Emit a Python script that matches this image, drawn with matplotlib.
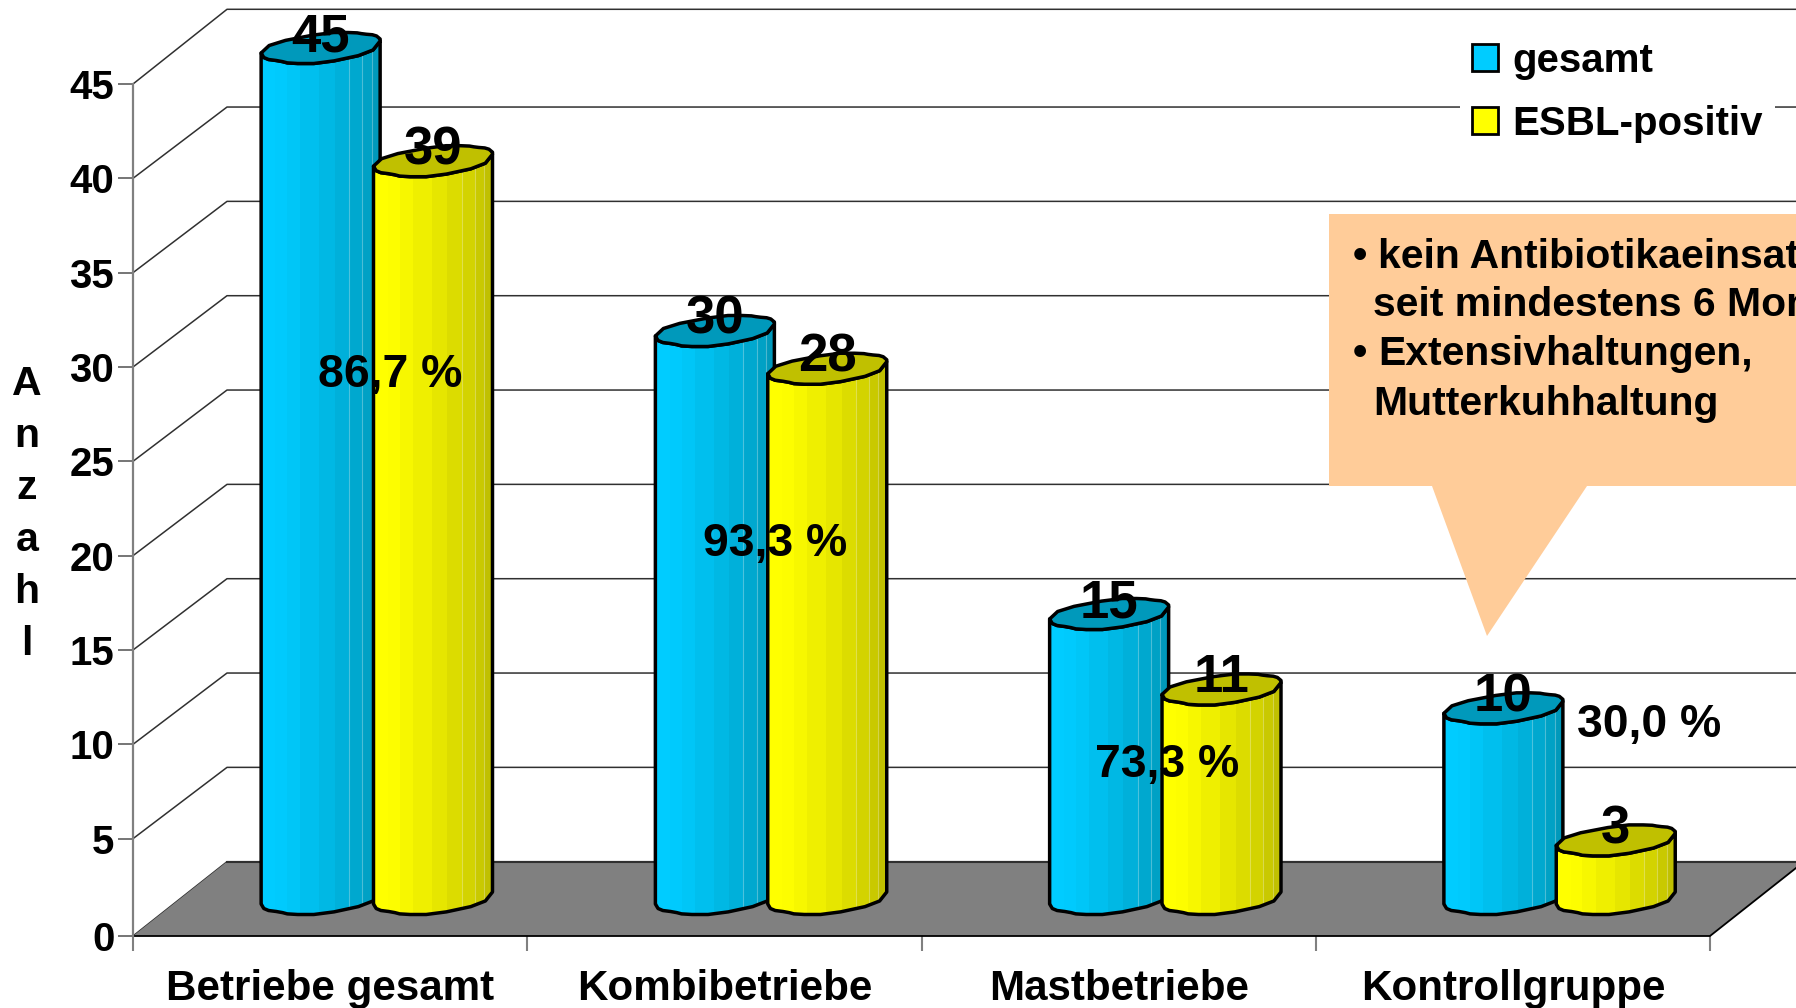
import matplotlib
matplotlib.use('Agg')
import matplotlib.pyplot as plt
from matplotlib.patches import Polygon, Patch
from matplotlib.colors import to_rgb
import numpy as np

plt.rcParams['font.family'] = ['Liberation Sans', 'DejaVu Sans']
plt.rcParams['font.weight'] = 'bold'

categories = ['Betriebe gesamt', 'Kombibetriebe', 'Mastbetriebe', 'Kontrollgruppe']
gesamt = [45, 30, 15, 10]
esbl = [39, 28, 11, 3]
y_ticks = [0, 5, 10, 15, 20, 25, 30, 35, 40, 45]
pct_labels = ['86,7 %', '93,3 %', '73,3 %', '30,0 %']
pct_x = [0.652, 1.628, 2.623, 3.845]
pct_y = [29.6, 20.6, 8.9, 11.0]
callout_lines = ['kein Antibiotikaeinsatz', 'seit mindestens 6 Monaten',
                 'Extensivhaltungen,', 'Mutterkuhhaltung']

W, H = 1796, 1008
X0, X1, Y0, Y45 = 133, 1710, 933, 84
sx = (X1 - X0) / 4.0      # pixels per category
sy = (Y0 - Y45) / 45.0    # pixels per count
drop = 3 / sy             # floor front sits a little under the zero tick

fig = plt.figure(figsize=(W / 100, H / 100), dpi=100, facecolor='white')
ax = fig.add_axes([X0 / W, 1 - (Y0 + 3) / H, (X1 - X0) / W, (Y0 + 3 - Y45) / H], facecolor='none')
ax.set_xlim(0, 4)
ax.set_ylim(-drop, 45)

# depth of the fake 3d box
dx = 94 / sx
dy = 71.3 / sy

for v in y_ticks:
    low = -drop if v == 0 else v
    high = v + dy + (3.4 / sy if v == 45 else 0)
    ax.plot([0, dx, 4 + dx], [low, high, high], color='#303030', lw=1.1, zorder=1, clip_on=False)
ax.fill([0, 4, 4 + dx, dx], [-drop, -drop, dy, dy], facecolor='#808080', edgecolor='none',
        zorder=2, clip_on=False)
ax.plot([dx, 4 + dx], [dy, dy], color='#303030', lw=1.5, zorder=2, clip_on=False)
ax.plot([0, 4, 4 + dx], [-drop, -drop, dy], color='black', lw=1.3, zorder=2, clip_on=False)


def soften(u, v):
    # one round of corner cutting, keeps end points
    pts = np.column_stack([u, v])
    out = [pts[0]]
    for a, b in zip(pts[:-1], pts[1:]):
        out.append(a * 0.75 + b * 0.25)
        out.append(a * 0.25 + b * 0.75)
    out.append(pts[-1])
    out = np.array(out)
    return out[:, 0], out[:, 1]


# lumpy cylinder outline, pixels from the centre line
low_u, low_v = soften(np.array([0, 0.03, 0.16, 0.24, 0.51, 0.92, 1.0]),
                      np.array([5, 11, 13, 15.5, 15.5, 5, -7]))
up_u, up_v = soften(np.array([1.0, 0.96, 0.86, 0.79, 0.55, 0.09, 0.0]),
                    np.array([-9, -13, -14, -15.5, -15.5, -5, 5]))
strip_u = [0, 0.12, 0.22, 0.33, 0.49, 0.62, 0.74, 0.85, 0.93, 1.0]
strip_t = [0, 0.03, 0.12, 0.25, 0.4, 0.55, 0.7, 0.85, 1.0]
seam_u = [0.74, 0.85, 0.93]
base_top = 36 / sy
base_bot = 34 / sy
bar_w = 119 / sx


def draw_bar(x, value, light, dark, z):
    c1 = np.array(to_rgb(light))
    c2 = np.array(to_rgb(dark))
    top = value + base_top
    xs = x + low_u * bar_w
    body = list(zip(xs, base_bot - low_v / sy)) + list(zip(xs[::-1], (top - low_v / sy)[::-1]))
    outline = Polygon(body, closed=True, facecolor='none', edgecolor='black', lw=2.5,
                      joinstyle='round', zorder=z + 0.2, clip_on=False)
    back = Polygon(body, closed=True, facecolor=light, edgecolor='none', zorder=z, clip_on=False)
    ax.add_patch(back)
    ax.add_patch(outline)
    for i, t in enumerate(strip_t):
        b = ax.bar(x + strip_u[i] * bar_w, value + 2 * 16 / sy + 2 * base_top,
                   width=(strip_u[i + 1] - strip_u[i]) * bar_w, bottom=-base_top, align='edge',
                   color=c1 + (c2 - c1) * t, zorder=z + 0.1)
        for r in b:
            r.set_clip_path(back)
            r.set_clip_box(None)
    for u in seam_u:
        ln = ax.plot([x + u * bar_w] * 2, [0, value + 2 * base_top], color='white', alpha=0.3,
                     lw=0.8, zorder=z + 0.15)[0]
        ln.set_clip_path(back)
        ln.set_clip_box(None)
    cap = list(zip(xs, top - low_v / sy)) + list(zip(x + up_u * bar_w, top - up_v / sy))
    ax.add_patch(Polygon(cap, closed=True, facecolor=dark, edgecolor='black', lw=2.5,
                         joinstyle='round', zorder=z + 0.3, clip_on=False))
    ax.text(x + bar_w / 2, value + base_top + 11 / sy, str(value), ha='center', va='center',
            fontsize=38, color='black', zorder=7, clip_on=False)


for i in range(len(categories)):
    draw_bar(i + 0.325, gesamt[i], '#00CCFF', '#0099BB', 3 + i)
    draw_bar(i + 0.61, esbl[i], '#FFFF00', '#C0C000', 3.5 + i)
    ax.text(pct_x[i], pct_y[i], pct_labels[i], ha='center', va='center', fontsize=33.4,
            color='black', zorder=8, clip_on=False)

# axes
for s in ['top', 'right', 'bottom']:
    ax.spines[s].set_visible(False)
ax.spines['left'].set_color('#808080')
ax.spines['left'].set_linewidth(1.6)
ax.set_yticks([-drop] + y_ticks[1:])
ax.set_yticklabels([str(v) for v in y_ticks])
ax.tick_params(axis='y', length=10.5, width=1.1, color='#505050', labelsize=29, pad=3)
ax.set_xticks(range(5))
ax.set_xticklabels([])
ax.tick_params(axis='x', which='major', length=11, width=1.5, color='#808080')
ax.set_xticks([0.5, 1.5, 2.5, 3.5], minor=True)
ax.set_xticklabels(categories, minor=True, fontsize=30.3)
ax.tick_params(axis='x', which='minor', length=0, pad=24)

fig.text(27 / W, 1 - 514 / H, 'A\nn\nz\na\nh\nl', ha='center', va='center', fontsize=29.5,
         linespacing=1.47, color='black')

# callout, runs off the right edge of the picture like the original
call = [(1329, 214), (1796, 214), (1796, 486), (1587, 486), (1487, 636), (1432, 486), (1329, 486)]
fig.add_artist(Polygon([(a / W, 1 - b / H) for a, b in call], closed=True, transform=fig.transFigure,
                       facecolor='#FFCC99', edgecolor='none', zorder=9))
line_x = [1378, 1373, 1378, 1373]
line_y = [257, 305, 354, 404]
for t, a, b in zip(callout_lines, line_x, line_y):
    fig.text(a / W, 1 - b / H, t, ha='left', va='center', fontsize=29.4, color='black', zorder=10)
for b in [line_y[0], line_y[2]]:
    fig.text(1353 / W, 1 - b / H, '\u2022', ha='left', va='center', fontsize=29.4, color='black', zorder=10)

handles = [Patch(facecolor='#00CCFF', edgecolor='black', lw=2, label='gesamt'),
           Patch(facecolor='#FFFF00', edgecolor='black', lw=2, label='ESBL-positiv')]
leg = fig.legend(handles=handles, loc='upper left', bbox_to_anchor=(1460 / W, 1 - 30 / H),
                 fontsize=29, frameon=True, facecolor='white', edgecolor='none', framealpha=1,
                 fancybox=False, handlelength=0.65, handleheight=0.65, handletextpad=0.35,
                 labelspacing=0.62, borderpad=0.3, borderaxespad=0)
leg.set_zorder(10)

plt.savefig('out.png', dpi=100)
